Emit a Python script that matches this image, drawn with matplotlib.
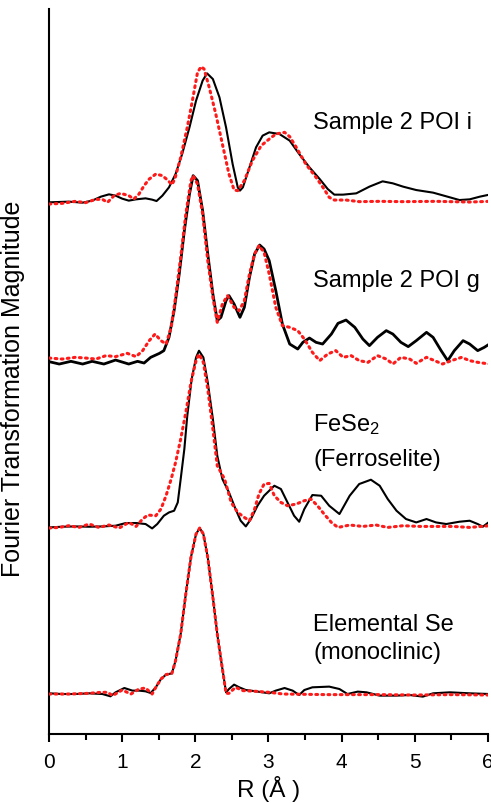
import numpy as np
import matplotlib
matplotlib.use('Agg')
from matplotlib import pyplot as plt

plt.rcParams['font.family'] = ['Liberation Sans', 'DejaVu Sans']
plt.rcParams['mathtext.default'] = 'regular'

# Fourier transform magnitudes (arbitrary units, relative to each baseline)
# black = data, red dotted = fit

# Sample 2 POI i
r_i = [0.00, 0.27, 0.46, 0.59, 0.71, 0.82, 0.91, 1.00, 1.09, 1.19, 1.32, 1.41, 1.47, 1.55, 1.64,
       1.73, 1.82, 1.92, 2.01, 2.10, 2.16, 2.24, 2.33, 2.42, 2.51, 2.58, 2.61, 2.65, 2.74, 2.83,
       2.92, 3.01, 3.15, 3.29, 3.42, 3.56, 3.70, 3.81, 3.90, 4.02, 4.20, 4.38, 4.56, 4.70, 4.84,
       5.02, 5.25, 5.48, 5.61, 5.75, 5.89, 6.02]
data_i = [0, 0.7, -0.3, 1.7, 5.7, 8, 6.7, 3.7, 1.7, 3, 4, 2.7, 1.3, 6.7, 15,
          28.3, 48.3, 75, 101.7, 121.7, 129, 123.3, 105, 75, 38.3, 15, 11.7, 15, 35, 55,
          66.7, 70, 68.3, 61.7, 48.3, 35, 23.3, 13.3, 7.7, 7.7, 9, 15.7, 21, 19, 15.7,
          12.3, 9.7, 5, 2.3, 3, 5.7, 7.7]
rfit_i = [0.00, 0.18, 0.36, 0.50, 0.64, 0.73, 0.80, 0.89, 0.98, 1.09, 1.16, 1.23, 1.30, 1.37,
          1.46, 1.55, 1.62, 1.68, 1.72, 1.80, 1.89, 1.96, 2.03, 2.08, 2.12, 2.19, 2.28, 2.37,
          2.46, 2.53, 2.58, 2.67, 2.78, 2.90, 3.01, 3.10, 3.22, 3.29, 3.38, 3.51, 3.65, 3.76,
          3.83, 3.90, 4.06, 4.24, 4.52, 4.84, 5.29, 5.75, 6.02]
fit_i = [-1.7, -1, 1, -0.3, 3, 3, 0, 6.7, 9, 6.7, 3.3, 8.3, 16.7, 23.3,
         28.3, 26.7, 22.3, 17.7, 23.3, 45, 75, 101.7, 130, 135.7, 133.3, 115, 88.3, 58.3,
         28.3, 12.3, 11.7, 21.7, 41.7, 56.7, 63.3, 68.3, 70, 65.7, 55, 38.3, 25, 13.3,
         5, 2.3, 2.3, 0.7, 1, 0.7, 1, 0.3, 1]

# Sample 2 POI g
r_g = [0.00, 0.14, 0.30, 0.46, 0.59, 0.75, 0.91, 1.09, 1.21, 1.30, 1.39, 1.51, 1.57, 1.64, 1.71,
       1.78, 1.85, 1.92, 1.97, 2.03, 2.10, 2.17, 2.24, 2.30, 2.35, 2.42, 2.46, 2.53, 2.61, 2.67,
       2.74, 2.81, 2.88, 2.94, 3.01, 3.10, 3.19, 3.29, 3.40, 3.47, 3.56, 3.65, 3.74, 3.86, 3.95,
       4.06, 4.18, 4.29, 4.38, 4.49, 4.61, 4.70, 4.81, 4.91, 5.02, 5.16, 5.25, 5.36, 5.45, 5.54,
       5.66, 5.75, 5.86, 5.95, 6.02]
data_g = [0.7, -1.7, 1, -1.7, 1, -1.7, 2.3, -1.7, 1, -0.7, 5, 9, 11.7, 25, 51.7,
          88.3, 131.7, 168.3, 186.7, 181.7, 151.7, 108.3, 68.3, 41.7, 45, 61.7, 66.7, 58.3, 45, 55,
          85, 108.3, 117.3, 113.3, 101.7, 71.7, 38.3, 18.3, 13.3, 20, 24.3, 20, 18.3, 28.3, 39,
          42.3, 35, 23.3, 16.7, 25, 31.7, 28.3, 20, 15.7, 21.7, 30, 25, 11.7, 1.7, 11.7,
          21.7, 18.3, 11.7, 15, 18.3]
rfit_g = [0.00, 0.18, 0.36, 0.50, 0.64, 0.78, 0.91, 1.07, 1.19, 1.28, 1.37, 1.45, 1.53, 1.60,
          1.67, 1.73, 1.80, 1.87, 1.94, 1.97, 2.03, 2.10, 2.17, 2.24, 2.30, 2.37, 2.44, 2.53,
          2.60, 2.67, 2.74, 2.81, 2.87, 2.94, 3.01, 3.10, 3.19, 3.29, 3.40, 3.49, 3.60, 3.70,
          3.81, 3.92, 4.02, 4.13, 4.24, 4.36, 4.49, 4.61, 4.70, 4.81, 4.93, 5.02, 5.16, 5.27,
          5.38, 5.50, 5.64, 5.75, 5.86, 6.02]
fit_g = [4.3, 3.3, 5, 4.3, 3.3, 6.7, 5.7, 9, 5.7, 11.7, 21.7, 28.3, 21.7, 18.3,
         35, 65, 105, 148.3, 181.7, 186.7, 178.3, 148.3, 101.7, 65, 40, 58.3, 66.7, 55,
         51.7, 61.7, 88.3, 108.3, 116.7, 110, 88.3, 55, 36.7, 35, 31.7, 23.3, 10, 1.7,
         8.3, 11.7, 5, 6.7, 1.7, 0, 6.7, 3.3, -1.7, 5, 3.3, -1, 5, 1.7,
         -1.7, 1.7, 5, 1.7, 0, -1.7]

# FeSe2 (Ferroselite)
r_fe = [0.00, 0.18, 0.36, 0.55, 0.73, 0.91, 1.05, 1.19, 1.32, 1.41, 1.48, 1.57, 1.64, 1.71, 1.76,
        1.80, 1.85, 1.89, 1.95, 2.01, 2.05, 2.11, 2.17, 2.24, 2.30, 2.37, 2.46, 2.55, 2.62, 2.69,
        2.76, 2.85, 2.94, 3.01, 3.08, 3.17, 3.26, 3.35, 3.42, 3.49, 3.60, 3.72, 3.83, 3.97, 4.11,
        4.24, 4.40, 4.52, 4.63, 4.75, 4.88, 5.02, 5.16, 5.29, 5.43, 5.61, 5.75, 5.86, 5.93, 6.02]
data_fe = [-0.7, 0, 0.3, 0, 0.3, 1, 3.7, 3.7, 2.7, -1.7, 2.7, 11, 14.3, 16, 24.3,
           47.7, 77.7, 111, 147.7, 169.3, 176, 169.3, 144.3, 107.7, 71, 47.7, 34.3, 17.7, 6, 0.3,
           7.7, 21, 31, 36, 41, 37.7, 24.3, 11, 5, 17.7, 31.7, 31, 21, 12.7, 31,
           42.7, 47, 41, 27.7, 16, 7.7, 4.3, 7.7, 4.3, 2.7, 5, 6, 2.7, 0, 5]
rfit_fe = [0.00, 0.14, 0.27, 0.41, 0.55, 0.68, 0.82, 0.96, 1.09, 1.19, 1.28, 1.35, 1.46, 1.53,
           1.60, 1.67, 1.73, 1.80, 1.87, 1.94, 2.01, 2.05, 2.11, 2.17, 2.24, 2.30, 2.40, 2.49,
           2.58, 2.67, 2.74, 2.81, 2.87, 2.94, 3.01, 3.08, 3.17, 3.26, 3.38, 3.49, 3.58, 3.67,
           3.76, 3.86, 3.95, 4.11, 4.29, 4.47, 4.63, 4.84, 5.07, 5.29, 5.52, 5.75, 6.02]
fit_fe = [-1.3, -0.7, 1, -0.7, 2.7, -0.7, 1.7, -1.3, 4.3, 0.3, 7.7, 11.7, 11, 17.7,
          31, 47.7, 64.3, 87.7, 114.3, 144.3, 166, 172.7, 164.3, 137.7, 97.7, 61, 47.7, 24.3,
          14.3, 9.3, 6, 17.7, 32.7, 42.7, 43.3, 31, 24.3, 21, 22.7, 26, 27.7, 21,
          12.7, 4.3, -0.7, 1.7, 0.3, 1.7, -0.7, 1, 0.3, 0.3, 0.3, -0.7, 1]

# Elemental Se (monoclinic)
r_se = [0.00, 0.18, 0.36, 0.55, 0.73, 0.84, 0.91, 1.03, 1.14, 1.23, 1.32, 1.39, 1.46, 1.53, 1.60,
        1.68, 1.73, 1.80, 1.87, 1.94, 2.01, 2.06, 2.11, 2.17, 2.24, 2.30, 2.36, 2.42, 2.46, 2.53,
        2.60, 2.69, 2.83, 3.01, 3.10, 3.22, 3.33, 3.42, 3.49, 3.60, 3.83, 3.97, 4.08, 4.22, 4.34,
        4.52, 4.75, 4.93, 5.11, 5.25, 5.48, 5.75, 6.02]
data_se = [0, -0.7, -0.7, 0, -0.7, -3, 1, 5.3, 2.7, 2.7, 2, 0.3, 6, 14.3, 18.7,
           20, 32.7, 59.3, 99.3, 136, 159.3, 165.3, 159.3, 136, 96, 59.3, 29.3, 1, 4.3, 8.7,
           6, 3.3, 2, 0, 2.7, 5.3, 2.7, -1.7, 3.3, 6, 6.7, 4.3, -0.7, 1.7, 1,
           -2.3, -2.3, -1.7, -3.3, 0, 1, 0, -0.7]
rfit_se = [0.00, 0.27, 0.55, 0.71, 0.80, 0.87, 1.00, 1.12, 1.23, 1.32, 1.41, 1.46, 1.53, 1.60,
           1.68, 1.73, 1.80, 1.87, 1.94, 2.01, 2.06, 2.11, 2.17, 2.24, 2.30, 2.36, 2.42, 2.46,
           2.55, 2.65, 2.83, 3.01, 3.20, 3.50, 3.80, 4.10, 4.50, 5.00, 5.50, 6.02]
fit_se = [-0.7, -0.7, 0, 1, 1, -2.3, 3.3, -0.7, 4.3, 5.3, -0.7, 6, 14.3, 18.7,
          20, 32.7, 59.3, 99.3, 136, 159.3, 165.3, 159.3, 136, 96, 59.3, 29.3, 0, 0,
          6, 2.7, 2, 1, -0.7, -1, -1.3, -1.3, -1.3, -1.7, -1.3, -1.7]

# vertical stacking offsets
offsets = [531.7, 371.7, 207.3, 40.7]

# sample labels, one entry per text line, with baseline heights
label_lines = ['Sample 2 POI i', 'Sample 2 POI g', 'FeSe$_2$', '(Ferroselite)',
               'Elemental Se', '(monoclinic)']
label_base = [606, 448, 304, 269, 104, 76]

series = [(r_i, data_i, rfit_i, fit_i),
          (r_g, data_g, rfit_g, fit_g),
          (r_fe, data_fe, rfit_fe, fit_fe),
          (r_se, data_se, rfit_se, fit_se)]

fig = plt.figure(figsize=(4.91, 8.04), dpi=100)
ax = fig.add_axes([0.0998, 0.0858, 0.894, 0.9017])

for k, (r, d, rf, f) in enumerate(series):
    lw = 2.0 if k == 1 else 1.5
    ax.plot(r, np.array(d) + offsets[k], color='black', lw=lw, zorder=2)
    ax.plot(rf, np.array(f) + offsets[k], color='#ff1a1a', lw=2.2, ls=(0, (0.6, 1.4)),
            dash_capstyle='round', zorder=3)

for txt, yb in zip(label_lines, label_base):
    ax.text(3.61, yb, txt, fontsize=17, ha='left', va='baseline')

ax.set_xlim(0, 6)
ax.set_ylim(0, 725)
ax.spines['top'].set_visible(False)
ax.spines['right'].set_visible(False)
ax.spines['left'].set_linewidth(1.5)
ax.spines['bottom'].set_linewidth(1.5)
ax.set_yticks([])
ax.set_xticks(range(7))
ax.set_xticks(np.arange(0.5, 6, 1), minor=True)
ax.tick_params(axis='x', which='major', direction='out', length=6, width=1.5, labelsize=15, pad=7)
ax.tick_params(axis='x', which='minor', direction='out', length=4, width=1.5)
ax.set_xlabel('R (Å )', fontsize=17.5, labelpad=2.5)
ax.set_ylabel('Fourier Transformation Magnitude', fontsize=18)
ax.yaxis.set_label_coords(-0.055, 0.478)

plt.savefig('out.png', dpi=100)
